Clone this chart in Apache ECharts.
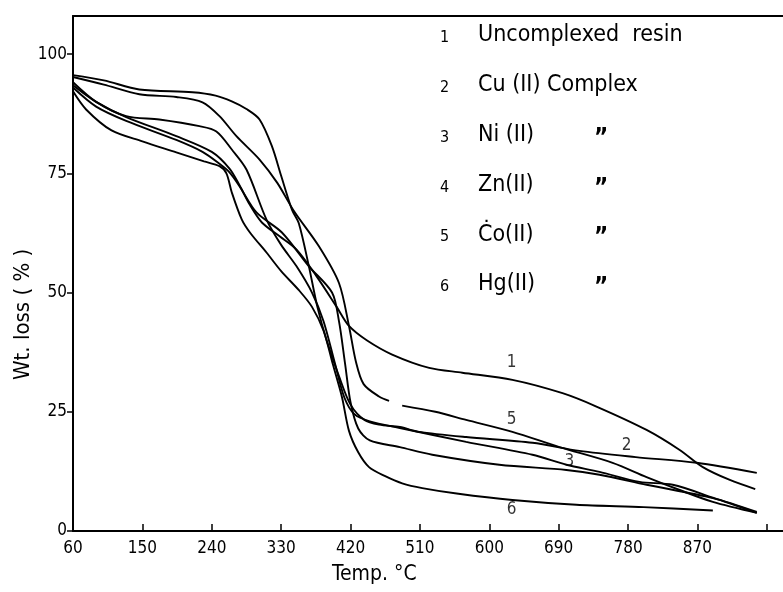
<!DOCTYPE html>
<html>
<head>
<meta charset="utf-8">
<title>TGA curves</title>
<script src="https://cdn.jsdelivr.net/npm/echarts@6/dist/echarts.min.js"></script>
<style>
  html, body { margin: 0; padding: 0; background: #fff; }
  #chart { width: 783px; height: 592px; }
</style>
</head>
<body>
<div id="chart"></div>
<script>
// tick labels shown on the axes
var xTicks = [60, 150, 240, 330, 420, 510, 600, 690, 780, 870];
var xTickMarks = [60, 150, 240, 330, 420, 510, 600, 690, 780, 870, 960];
var yTicks = [0, 25, 50, 75, 100];

// weight curves: [temp C, wt %]
var curve1 = [[60,93.5],[90,90],[129,86.8],[194,82.8],[240,79.5],[263,76],[276,72.5],[289,68.5],[305,64.7],[328,61.8],[350,59],[376,53.4],[402,47],[418,43],[441,40],[474,37],[522,34.2],[565,33.2],[630,31.7],[695,28.9],[739,26.1],[804,21.2],[847,17],[877,13.4],[912,10.7],[945,8.8]];
var curve2 = [[60,95.6],[100,94.5],[146,92.6],[215,92],[245,91.3],[266,90.1],[285,88.5],[302,86.3],[318,80.7],[330,74.5],[344,67.4],[353,64.5],[366,55.5],[377,47],[389,40],[405,32.5],[420,26.5],[438,23.3],[457,22.3],[484,21.8],[509,20.8],[570,19.7],[656,18.5],[717,16.8],[790,15.5],[869,14.3],[947,12.2]];
var curve3 = [[60,94.1],[90,90],[129,87],[172,86.3],[224,84.9],[246,83.8],[266,80],[285,75.8],[311,65.3],[330,60],[350,55.5],[370,50],[385,44],[400,35],[412,28],[425,24.5],[445,23],[484,21.6],[570,18.7],[656,16],[700,13.9],[743,12.4],[795,10.3],[838,9.7],[890,7],[947,3.8]];
var curve4 = [[60,93],[90,89],[129,86],[194,82],[228,79.5],[250,77],[263,75.2],[276,72.3],[298,66.8],[331,62.6],[366,55.5],[396,50],[405,44],[413,35],[420,27],[430,21.5],[445,19],[484,17.6],[526,16],[613,13.9],[700,12.8],[743,11.8],[804,9.7],[890,6.9],[947,4]];
var curve5 = [[60,95.2],[100,93.6],[146,91.6],[194,91],[228,89.9],[250,87],[272,82.8],[302,77.9],[325,73],[347,67],[379,59.7],[405,52],[418,43],[427,35.5],[437,30.8],[457,28.2],[470,27.3],[478,'-'],[487,26.3],[530,25],[570,23.3],[630,20.8],[691,17.6],[760,14.3],[804,11.3],[847,8.6],[890,6.1],[947,3.8]];
var curve6 = [[60,92.2],[77,88.4],[110,84],[150,81.7],[194,79.4],[230,77.5],[250,76.5],[259,75],[266,71],[279,65.3],[290,62.5],[311,58.4],[330,54.5],[353,50.5],[370,47],[385,42],[397,35],[409,28],[418,21],[430,16.5],[444,13.4],[465,11.5],[487,10],[513,9],[560,7.8],[630,6.5],[713,5.5],[800,5],[890,4.3]];

var curves = [curve1, curve2, curve3, curve4, curve5, curve6];
var legendNames = ['Uncomplexed  resin', 'Cu (II) Complex', 'Ni (II)', 'Zn(II)', 'Ċo(II)', 'Hg(II)'];
var dittoRows = [false, false, true, true, true, true];

// numbers written next to the curves: [tag, temp, wt]
var curveTags = [['1', 629, 35.4], ['5', 629, 23.3], ['2', 778, 18], ['3', 704, 14.5], ['6', 629, 4.4]];

var ink = '#000';
var font = "'DejaVu Sans Condensed', 'DejaVu Sans', sans-serif";

var myChart = echarts.init(document.getElementById('chart'));

var series = curves.map(function (c, i) {
    return {
        name: legendNames[i],
        type: 'line',
        data: c,
        symbol: 'none',
        smooth: 0.3,
        connectNulls: false,
        lineStyle: { color: ink, width: 1.9 },
        silent: true
    };
});

series.push({
    type: 'scatter',
    symbolSize: 0,
    data: curveTags.map(function (t) { return { name: t[0], value: [t[1], t[2]] }; }),
    label: {
        show: true,
        position: 'inside',
        formatter: '{b}',
        color: ink,
        fontSize: 17,
        fontFamily: font
    },
    silent: true
});

// legend block drawn as plain text, as in the figure
var graphics = [];
legendNames.forEach(function (name, i) {
    var y = 39 + i * 49.8;
    graphics.push({ type: 'text', left: 440, top: y - 9, style: { text: String(i + 1), fill: ink, font: '16px ' + font } });
    graphics.push({ type: 'text', left: 478, top: y - 15, style: { text: name, fill: ink, font: '23px ' + font } });
    if (dittoRows[i]) {
        graphics.push({ type: 'text', left: 594, top: y - 12, style: { text: '”', fill: ink, font: 'bold 24px ' + font } });
    }
});
graphics.push({
    type: 'text', x: 12, y: 380, rotation: Math.PI / 2,
    style: { text: 'Wt. loss ( % )', fill: ink, font: '22px ' + font }
});
graphics.push({
    type: 'text', left: 332, top: 564,
    style: { text: 'Temp. °C', fill: ink, font: '21px ' + font }
});

var option = {
    backgroundColor: '#fff',
    animation: false,
    grid: { left: 73, right: 0, top: 16, bottom: 61 },
    xAxis: [{
        type: 'value',
        min: 60,
        max: 981,
        interval: 90,
        axisLine: { lineStyle: { color: ink, width: 2 } },
        axisTick: { inside: true, length: 7, customValues: xTickMarks, lineStyle: { color: ink, width: 1.5 } },
        axisLabel: {
            color: ink, fontSize: 17, fontFamily: font, margin: 9,
            customValues: xTicks,
            formatter: function (v) { return xTicks.indexOf(v) >= 0 ? String(v) : ''; }
        },
        splitLine: { show: false }
    }, {
        type: 'value',
        position: 'top',
        min: 60,
        max: 981,
        axisLine: { show: true, lineStyle: { color: ink, width: 2 } },
        axisTick: { show: false },
        axisLabel: { show: false },
        splitLine: { show: false }
    }],
    yAxis: {
        type: 'value',
        min: 0,
        max: 108,
        interval: 25,
        axisLine: { show: true, lineStyle: { color: ink, width: 2 } },
        axisTick: { inside: false, length: 6, customValues: yTicks, lineStyle: { color: ink, width: 1.5 } },
        axisLabel: {
            color: ink, fontSize: 17, fontFamily: font, margin: 6,
            customValues: yTicks,
            formatter: function (v) { return yTicks.indexOf(v) >= 0 ? String(v) : ''; }
        },
        splitLine: { show: false }
    },
    graphic: graphics,
    series: series
};

myChart.setOption(option);
</script>
</body>
</html>
